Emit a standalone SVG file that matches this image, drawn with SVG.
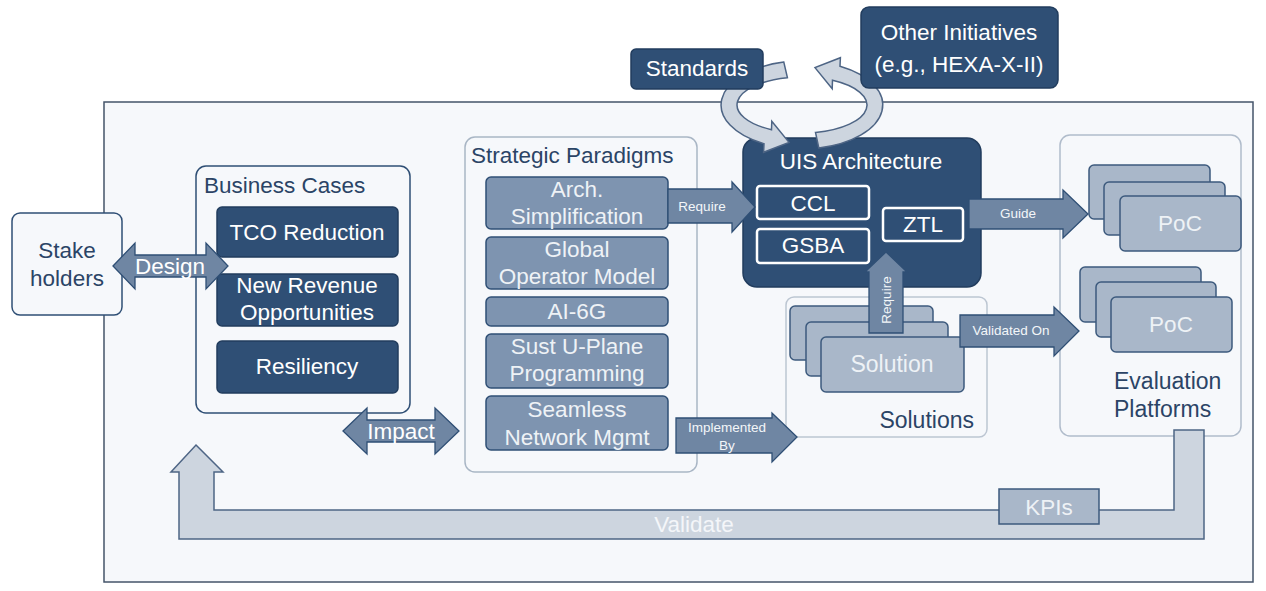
<svg xmlns="http://www.w3.org/2000/svg" width="1266" height="591" viewBox="0 0 1266 591">
<defs>
<style>
text{font-family:"Liberation Sans",Arial,sans-serif;}
.big{font-size:22.5px;}
.sm{font-size:13.5px;fill:#f3f6f9;text-anchor:middle;}
.wt{fill:#ffffff;text-anchor:middle;}
.lt{fill:#eef2f6;text-anchor:middle;}
.dk{fill:#2b4466;}
.dark{fill:#2f4f75;stroke:#223d5e;stroke-width:1.5;}
.med{fill:#7e94b0;stroke:#2f4f75;stroke-width:1.5;}
.light{fill:#a9b7c9;stroke:#3d5a7d;stroke-width:1.5;}
.arr{fill:#6f86a3;stroke:#2f4f75;stroke-width:1.3;}
.band{fill:#cdd5df;stroke:#4e6585;stroke-width:1.5;}
.inner{fill:#2f4f75;stroke:#ffffff;stroke-width:2.5;}
.grp{fill:#f6f8fb;stroke:#a9b6c5;stroke-width:1.5;}
</style>
</defs>
<rect width="1266" height="591" fill="#ffffff"/>
<g id="panel"><rect x="104" y="102" width="1149" height="480" fill="#f6f8fb" stroke="#44546a" stroke-width="1.5"/></g>

<g id="stakeholders">
<rect x="12" y="213" width="110" height="102" rx="8" fill="#f6f8fb" stroke="#2f4f75" stroke-width="1.5"/>
<text class="big dk" x="67" y="258" text-anchor="middle">Stake</text>
<text class="big dk" x="67" y="286" text-anchor="middle">holders</text>
</g>

<g id="business-cases">
<rect x="196" y="166" width="214" height="247" rx="10" fill="#f6f8fb" stroke="#2f4f75" stroke-width="1.5"/>
<text class="big dk" x="204" y="193">Business Cases</text>
</g>
<g id="tco"><rect class="dark" x="217" y="207" width="181" height="50" rx="5"/><text class="big wt" x="307" y="240">TCO Reduction</text></g>
<g id="revenue"><rect class="dark" x="217" y="274" width="181" height="52" rx="5"/><text class="big wt" x="307" y="293">New Revenue</text><text class="big wt" x="307" y="320">Opportunities</text></g>
<g id="resiliency"><rect class="dark" x="217" y="341" width="181" height="52" rx="5"/><text class="big wt" x="307" y="374">Resiliency</text></g>

<g id="strategic-paradigms">
<rect class="grp" x="465" y="137" width="232" height="335" rx="10"/>
<text class="big dk" x="471" y="163">Strategic Paradigms</text>
</g>
<g id="arch"><rect class="med" x="486" y="177" width="182" height="52" rx="5"/><text class="big lt" x="577" y="197">Arch.</text><text class="big lt" x="577" y="224">Simplification</text></g>
<g id="global"><rect class="med" x="486" y="237" width="182" height="52" rx="5"/><text class="big lt" x="577" y="257">Global</text><text class="big lt" x="577" y="284">Operator Model</text></g>
<g id="ai6g"><rect class="med" x="486" y="297" width="182" height="29" rx="5"/><text class="big lt" x="577" y="319">AI-6G</text></g>
<g id="sust"><rect class="med" x="486" y="334" width="182" height="54" rx="5"/><text class="big lt" x="577" y="354">Sust U-Plane</text><text class="big lt" x="577" y="381">Programming</text></g>
<g id="seamless"><rect class="med" x="486" y="396" width="182" height="54" rx="5"/><text class="big lt" x="577" y="417">Seamless</text><text class="big lt" x="577" y="445">Network Mgmt</text></g>

<g id="uis-architecture">
<rect x="743" y="138" width="238" height="149" rx="14" fill="#2f4f75" stroke="#223d5e" stroke-width="1.5"/>
<text class="big wt" x="861" y="169">UIS Architecture</text>
</g>
<g id="ccl"><rect class="inner" x="757" y="186" width="112" height="33" rx="3"/><text class="big wt" x="813" y="211">CCL</text></g>
<g id="gsba"><rect class="inner" x="757" y="229" width="112" height="34" rx="3"/><text class="big wt" x="813" y="253">GSBA</text></g>
<g id="ztl"><rect class="inner" x="883" y="208" width="80" height="33" rx="3"/><text class="big wt" x="923" y="232">ZTL</text></g>

<g id="solutions">
<rect x="786" y="297" width="201" height="140" rx="8" fill="#f6f8fb" stroke="#bcc6d2" stroke-width="1.5"/>
<text class="big dk" x="974" y="428" text-anchor="end" style="font-size:23px">Solutions</text>
<rect class="light" x="790" y="306" width="143" height="54" rx="5"/>
<rect class="light" x="806" y="322" width="142" height="54" rx="5"/>
<rect class="light" x="821" y="337" width="143" height="55" rx="5"/>
<text class="big lt" x="892" y="372" style="font-size:23px">Solution</text>
</g>

<g id="evaluation-platforms">
<rect x="1060" y="135" width="181" height="301" rx="10" fill="#f6f8fb" stroke="#b0bccb" stroke-width="1.5"/>
<rect class="light" x="1089" y="165" width="121" height="54" rx="5"/>
<rect class="light" x="1104" y="182" width="121" height="53" rx="5"/>
<rect class="light" x="1120" y="196" width="121" height="55" rx="5"/>
<text class="big lt" x="1180" y="231">PoC</text>
<rect class="light" x="1080" y="267" width="121" height="55" rx="5"/>
<rect class="light" x="1096" y="282" width="120" height="55" rx="5"/>
<rect class="light" x="1111" y="297" width="121" height="55" rx="5"/>
<text class="big lt" x="1171" y="332">PoC</text>
<text class="big dk" x="1114" y="389" style="font-size:23px">Evaluation</text>
<text class="big dk" x="1114" y="417" style="font-size:23px">Platforms</text>
</g>

<g id="connectors">
<path class="band" d="M196 445 L223 472 L214 472 L214 510 L1174 510 L1174 430 L1204 430 L1204 539 L179 539 L179 472 L171 472 Z"/>
<text class="big" x="694" y="532" text-anchor="middle" fill="#f4f6f9">Validate</text>
<path class="band" d="M783.8 62.1 A81 44 0 0 0 764 143.8 L763.6 152.3 L789 142.4 L771.8 121.3 L771.5 129.7 A65 28 0 0 1 787.4 77.7 Z"/>
<path class="band" d="M818.8 148 A81 44 0 0 0 840 66.2 L840.4 57.7 L815 67.6 L832.2 88.7 L832.5 80.3 A65 28 0 0 1 815.5 132.4 Z"/>
<path class="arr" d="M113 266 L135 243 L135 255 L206 255 L206 243 L228 266 L206 289 L206 277 L135 277 L135 289 Z"/>
<text class="big wt" x="170" y="274">Design</text>
<path class="arr" d="M343 431 L367 408 L367 420 L435 420 L435 408 L459 431 L435 454 L435 442 L367 442 L367 454 Z"/>
<text class="big wt" x="401" y="439">Impact</text>
<path class="arr" d="M668 189 L732 189 L732 182 L755 207 L732 232 L732 223 L668 223 Z"/>
<text class="sm" x="702" y="211">Require</text>
<path class="arr" d="M676 418 L772 418 L772 413 L797 437 L772 462 L772 453 L676 453 Z"/>
<text class="sm" x="727" y="432">Implemented</text>
<text class="sm" x="727" y="450">By</text>
<path class="arr" d="M969 199 L1063 199 L1063 190 L1088 214 L1063 238 L1063 229 L969 229 Z"/>
<text class="sm" x="1018" y="218">Guide</text>
<path class="arr" d="M960 315 L1054 315 L1054 307 L1079 331 L1054 356 L1054 347 L960 347 Z"/>
<text class="sm" x="1011" y="335">Validated On</text>
<path class="arr" d="M869 333 L869 272 L865 272 L886 252 L907 272 L903 272 L903 333 Z"/>
<text class="sm" x="891" y="300" transform="rotate(-90 891 300)">Require</text>
</g>

<g id="kpis"><rect class="light" x="999" y="489" width="100" height="35"/><text class="big lt" x="1049" y="515">KPIs</text></g>

<g id="standards"><rect x="631" y="49" width="132" height="40" rx="5" fill="#2f4f75" stroke="#223d5e" stroke-width="1.5"/><text class="big wt" x="697" y="76">Standards</text></g>
<g id="other-initiatives"><rect x="861" y="7" width="197" height="81" rx="8" fill="#2f4f75" stroke="#223d5e" stroke-width="1.5"/><text class="big wt" x="959" y="40">Other Initiatives</text><text class="big wt" x="959" y="72">(e.g., HEXA-X-II)</text></g>
</svg>
